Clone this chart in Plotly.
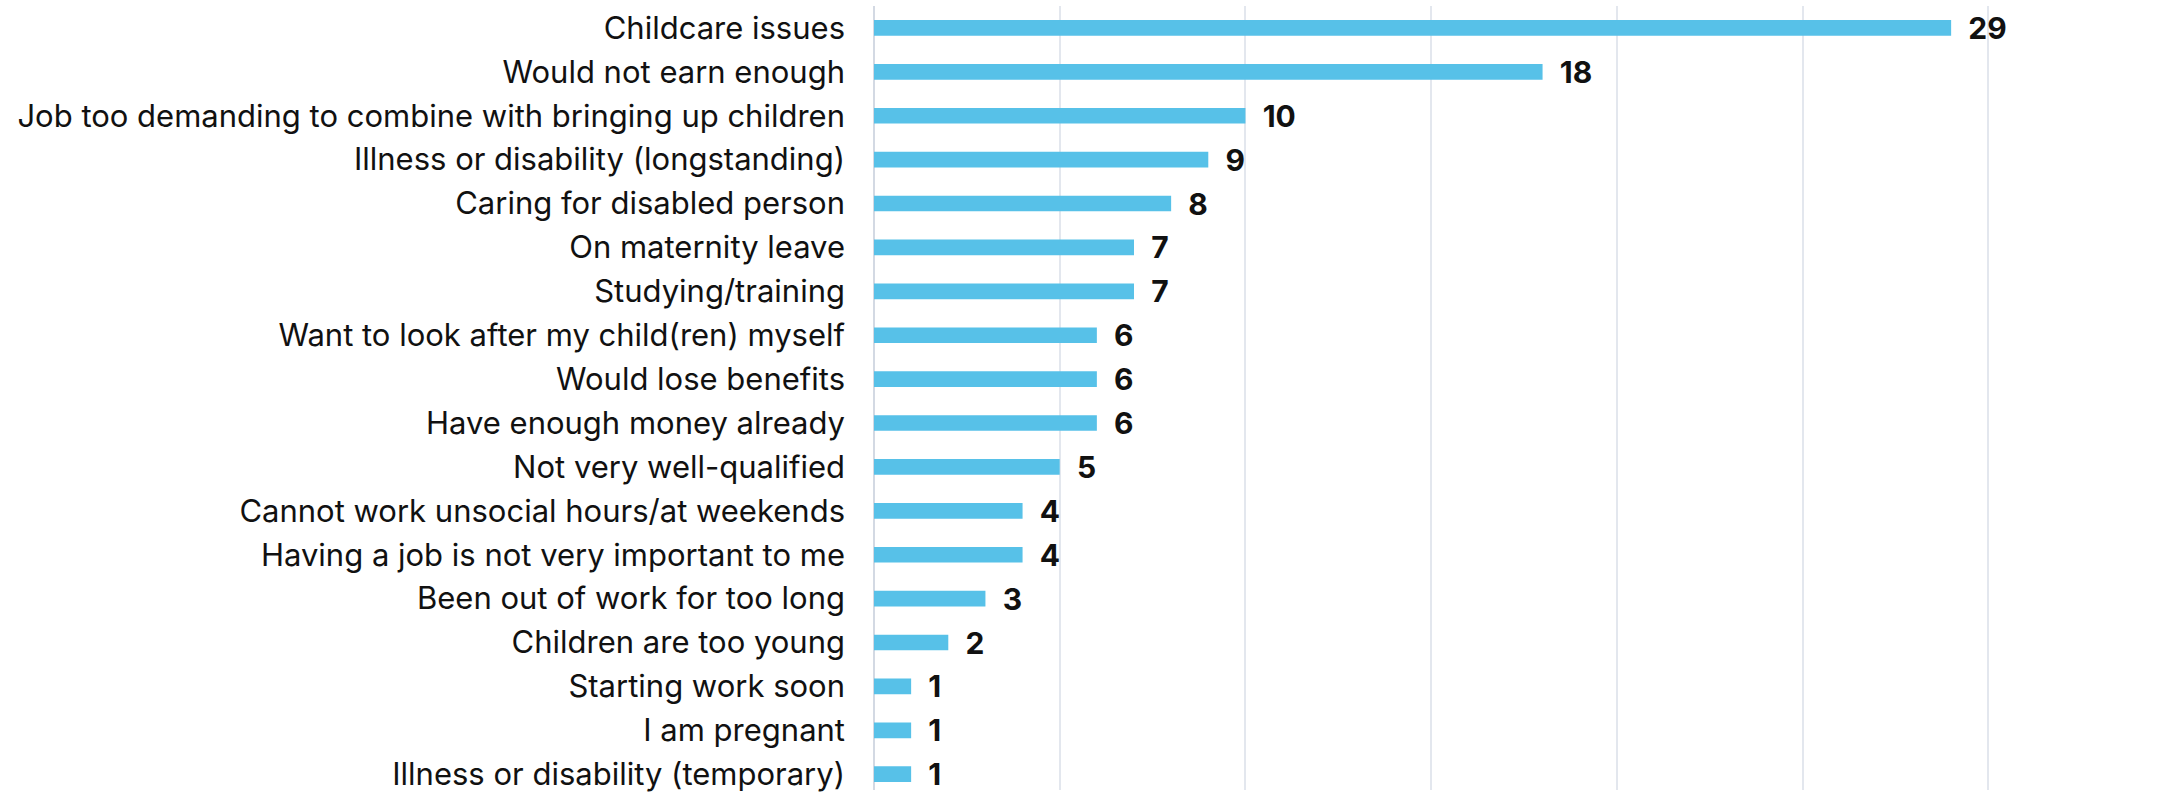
import plotly.graph_objects as go

categories = [
    "Childcare issues",
    "Would not earn enough",
    "Job too demanding to combine with bringing up children",
    "Illness or disability (longstanding)",
    "Caring for disabled person",
    "On maternity leave",
    "Studying/training",
    "Want to look after my child(ren) myself",
    "Would lose benefits",
    "Have enough money already",
    "Not very well-qualified",
    "Cannot work unsocial hours/at weekends",
    "Having a job is not very important to me",
    "Been out of work for too long",
    "Children are too young",
    "Starting work soon",
    "I am pregnant",
    "Illness or disability (temporary)",
]
values = [29, 18, 10, 9, 8, 7, 7, 6, 6, 6, 5, 4, 4, 3, 2, 1, 1, 1]

fig = go.Figure(go.Bar(
    x=values,
    y=categories,
    orientation="h",
    marker=dict(color="#57C1E8", line=dict(width=0)),
    text=values,
    texttemplate="  %{x}",
    textposition="outside",
    textangle=0,
    constraintext="none",
    textfont=dict(family="Inter", size=30, color="#111111", weight=700),
    cliponaxis=False,
))

fig.update_layout(
    width=2176,
    height=792,
    margin=dict(l=874, r=2, t=6, b=0),
    plot_bgcolor="white",
    paper_bgcolor="white",
    bargap=0.643,
    showlegend=False,
    font=dict(family="Inter", size=31, color="#111111"),
    uniformtext=dict(mode=False),
    xaxis=dict(
        range=[0, 35],
        dtick=5,
        showticklabels=False,
        showgrid=True,
        gridcolor="#E3E7EE",
        gridwidth=1.5,
        zeroline=True,
        zerolinecolor="#D3D9E3",
        zerolinewidth=2,
        fixedrange=True,
    ),
    yaxis=dict(
        range=[17.36, -0.5],
        showgrid=False,
        ticks="",
        ticklabelstandoff=28,
        tickfont=dict(family="Inter", size=31, color="#111111"),
    ),
)

fig.write_html("out.html")
